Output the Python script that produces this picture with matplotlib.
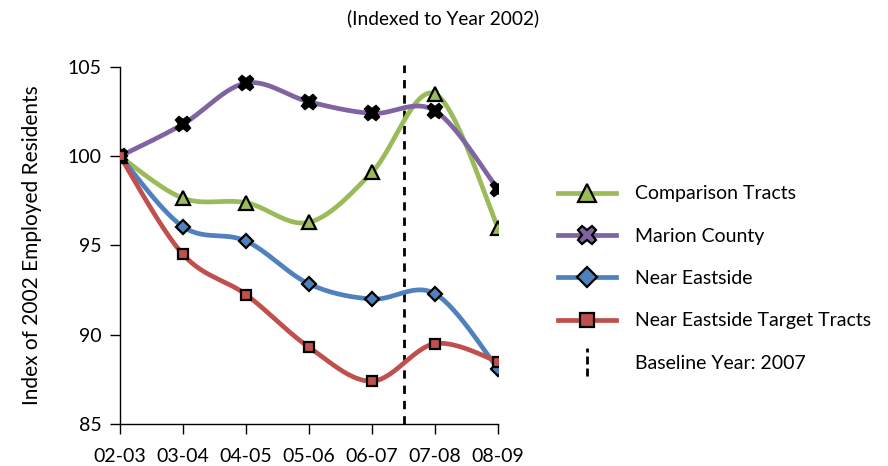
import numpy as np
import matplotlib
matplotlib.use("Agg")
import matplotlib.pyplot as plt
from matplotlib.lines import Line2D
from matplotlib.path import Path

plt.rcParams['font.family'] = ['Lato', 'DejaVu Sans']

categories = ["02-03", "03-04", "04-05", "05-06", "06-07", "07-08", "08-09"]
comparison = [100, 97.65, 97.4, 96.3, 99.1, 103.5, 96.0]
marion = [100, 101.8, 104.1, 103.05, 102.4, 102.55, 98.15]
near_eastside = [100, 96.05, 95.25, 92.85, 92.0, 92.3, 88.1]
target = [100, 94.5, 92.25, 89.3, 87.4, 89.5, 88.5]
baseline_pos = 4.5
yticks = [85, 90, 95, 100, 105]

series = [
    ("Comparison Tracts", comparison, "#9BBB59", "^", "#9BBB59", 10),
    ("Marion County", marion, "#8064A2", "X", "black", 10.5),
    ("Near Eastside", near_eastside, "#4F81BD", "D", "#4F81BD", 7),
    ("Near Eastside Target Tracts", target, "#C0504D", "s", "#C0504D", 7),
]


def smooth(x, y, n=30):
    # Bezier smoothing like spreadsheet "smoothed line"
    x = np.asarray(x, float)
    y = np.asarray(y, float)
    P = np.column_stack([x, y])
    out = []
    for i in range(len(P) - 1):
        p0 = P[i - 1] if i > 0 else P[i]
        p1 = P[i]
        p2 = P[i + 1]
        p3 = P[i + 2] if i + 2 < len(P) else P[i + 1]
        c1 = p1 + (p2 - p0) / 6.0
        c2 = p2 - (p3 - p1) / 6.0
        t = np.linspace(0, 1, n)[:, None]
        seg = ((1 - t) ** 3) * p1 + 3 * ((1 - t) ** 2) * t * c1 + 3 * (1 - t) * t ** 2 * c2 + t ** 3 * p2
        out.append(seg if i == 0 else seg[1:])
    s = np.vstack(out)
    return s[:, 0], s[:, 1]


fig = plt.figure(figsize=(8.88, 4.66), dpi=100)
ax = fig.add_axes([120 / 888, 1 - 424 / 466, (498 - 120) / 888, (424 - 67) / 466])

x = np.arange(len(categories))
handles = []
for name, vals, col, mk, fc, ms in series:
    sx, sy = smooth(x, vals)
    ax.plot(sx, sy, color=col, lw=3.4, solid_capstyle='round', zorder=2)
    ax.plot(x, vals, linestyle='none', marker=mk, markersize=ms, markerfacecolor=fc,
            markeredgecolor='black', markeredgewidth=1.6, zorder=3)
    handles.append(Line2D([], [], color=col, lw=3.4, marker=mk, markersize=ms + 3,
                          markerfacecolor=col, markeredgecolor='black', markeredgewidth=1.6))

ax.axvline(baseline_pos, color='black', lw=2, linestyle=(0, (3, 2.5)), ymin=0, ymax=1.005,
           clip_on=False, zorder=1)

vdash = Path([(0, -1), (0, -0.45), (0, -0.15), (0, 0.4), (0, 0.7), (0, 1)],
             [Path.MOVETO, Path.LINETO, Path.MOVETO, Path.LINETO, Path.MOVETO, Path.LINETO])
handles.append(Line2D([], [], linestyle='none', marker=vdash, markersize=20,
                      markeredgecolor='black', markerfacecolor='none', markeredgewidth=2))

ax.set_xlim(0, 6)
ax.set_ylim(85, 105)
ax.set_xticks(x)
ax.set_xticklabels(categories, fontsize=14)
ax.set_yticks(yticks)
ax.set_yticklabels([str(v) for v in yticks], fontsize=14)
for s in ['top', 'right']:
    ax.spines[s].set_visible(False)
ax.spines['left'].set_linewidth(1)
ax.spines['bottom'].set_linewidth(1)
ax.tick_params(axis='both', direction='out', length=7, width=1, colors='black')
ax.tick_params(axis='y', pad=6)
ax.tick_params(axis='x', pad=10)
ax.set_ylabel("Index of 2002 Employed Residents", fontsize=15, labelpad=19)

fig.text(443 / 888, 1 - 18 / 466, "(Indexed to Year 2002)", ha='center', va='center', fontsize=13.8)

labels = [s[0] for s in series] + ["Baseline Year: 2007"]
leg = fig.legend(handles, labels, loc='upper left', bbox_to_anchor=(540 / 888, 1 - 168 / 466),
                 frameon=False, fontsize=14, handlelength=3.0, handletextpad=1.0, labelspacing=1.3)

fig.savefig("out.png", dpi=100)
